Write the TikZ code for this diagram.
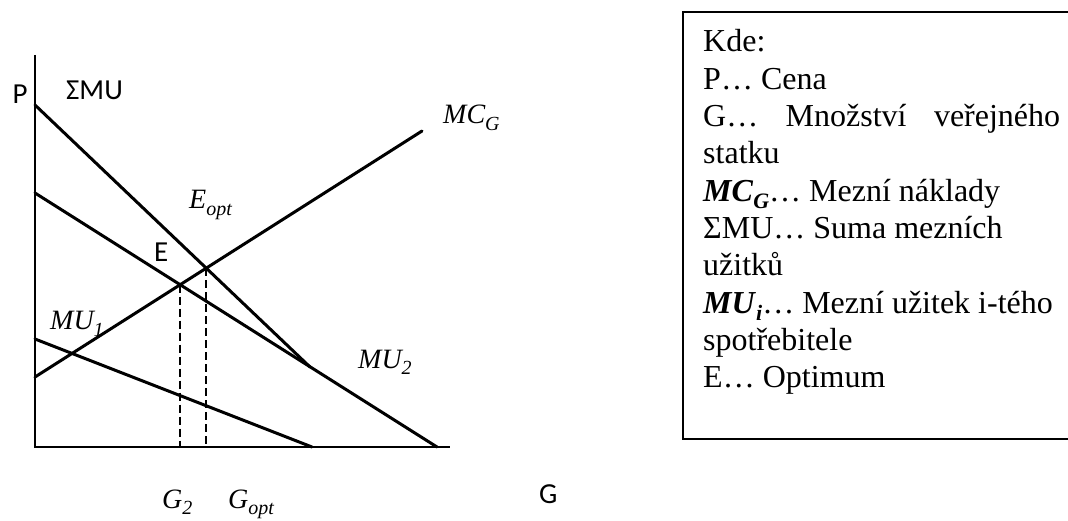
\documentclass[tikz,border=0pt]{standalone}
\usepackage{fontspec}
\setmainfont{Liberation Serif}
\newfontfamily\lblsans{Carlito}
\usetikzlibrary{intersections}
\newcommand{\lsub}[2]{\raisebox{-0.22em}{\fontsize{#1}{#1}\selectfont #2}}
\tikzset{
  curve/.style={line width=3pt, line cap=round},
  axis/.style={line width=2pt},
  guide/.style={line width=1.6pt, dash pattern=on 8pt off 4pt},
  sanslbl/.style={font=\lblsans\fontsize{29}{32}\selectfont, inner sep=0pt},
  itlbl/.style={font=\fontsize{28}{30}\selectfont\itshape, inner sep=0pt, anchor=base west},
  boxline/.style={font=\fontsize{32}{37}\selectfont, inner sep=0pt, anchor=base west},
  legendbox/.style={line width=2pt}
}
\begin{document}
\begin{tikzpicture}[x=1pt,y=-1pt]
\useasboundingbox (0,0) rectangle (1068,521);
\clip (0,0) rectangle (1068,521);
% key points
\coordinate (O) at (35,447);
\coordinate (Ytop) at (35,55);
\coordinate (Xend) at (450,447);
\coordinate (S0) at (35,105);
\coordinate (K) at (310,367);
\coordinate (Q2) at (437,447);
\coordinate (M2) at (35,193);
\coordinate (M1a) at (35,339);
\coordinate (M1b) at (312,447);
\coordinate (C0) at (35,377);
\coordinate (C1) at (422,131);
% axes
\draw[axis] (Ytop) -- (O) -- (Xend);
% curves
\draw[curve, name path=smu] (S0) -- (K);
\draw[curve, name path=mu2] (M2) -- (Q2);
\draw[curve] (M1a) -- (M1b);
\draw[curve, name path=mc] (C0) -- (C1);
\path[name intersections={of=mc and mu2, by=E}];
\path[name intersections={of=mc and smu, by=Eopt}];
\draw[guide] (E) -- (E |- O);
\draw[guide] (Eopt) -- (Eopt |- O);
% labels
\node[sanslbl] (lP) at (20,94) {P};
\node[sanslbl, anchor=base west] (lS) at (66,100) {ΣMU};
\node[sanslbl, anchor=base west] (lE) at (154,262) {E};
\node[sanslbl, anchor=base west] (lG) at (539,503) {G};
\node[itlbl] (lEopt) at (189,209) {E\lsub{20}{opt}};
\node[itlbl] (lMU1) at (50,330) {MU\lsub{20}{1}};
\node[itlbl] (lMU2) at (358,368) {MU\lsub{20}{2}};
\node[itlbl] (lMC) at (443,124) {MC\lsub{20}{G}};
\node[itlbl] (lG2) at (162,508) {G\lsub{20}{2}};
\node[itlbl] (lGopt) at (228,508) {G\lsub{20}{opt}};
% legend box
\draw[legendbox] (1075,12) -- (683,12) -- (683,439) -- (1075,439);
\node[boxline] (t1) at (703,52) {Kde:};
\node[boxline] (t2) at (703,89.3) {P… Cena};
\node[boxline] (t3) at (703,126.6) {\hbox to 357pt{G…\hfill Množství\hfill veřejného}};
\node[boxline] (t4) at (703,163.9) {statku};
\node[boxline] (t5) at (703,201.2) {\textbf{\textit{MC}}\lsub{22}{\textbf{\textit{G}}}… Mezní náklady};
\node[boxline] (t6) at (703,238.5) {ΣMU… Suma mezních};
\node[boxline] (t7) at (703,275.8) {užitků};
\node[boxline] (t8) at (703,313.1) {\textbf{\textit{MU}}\lsub{22}{\textbf{\textit{i}}}… Mezní užitek i-tého};
\node[boxline] (t9) at (703,350.4) {spotřebitele};
\node[boxline] (t10) at (703,387.7) {E… Optimum};
\end{tikzpicture}
\end{document}
